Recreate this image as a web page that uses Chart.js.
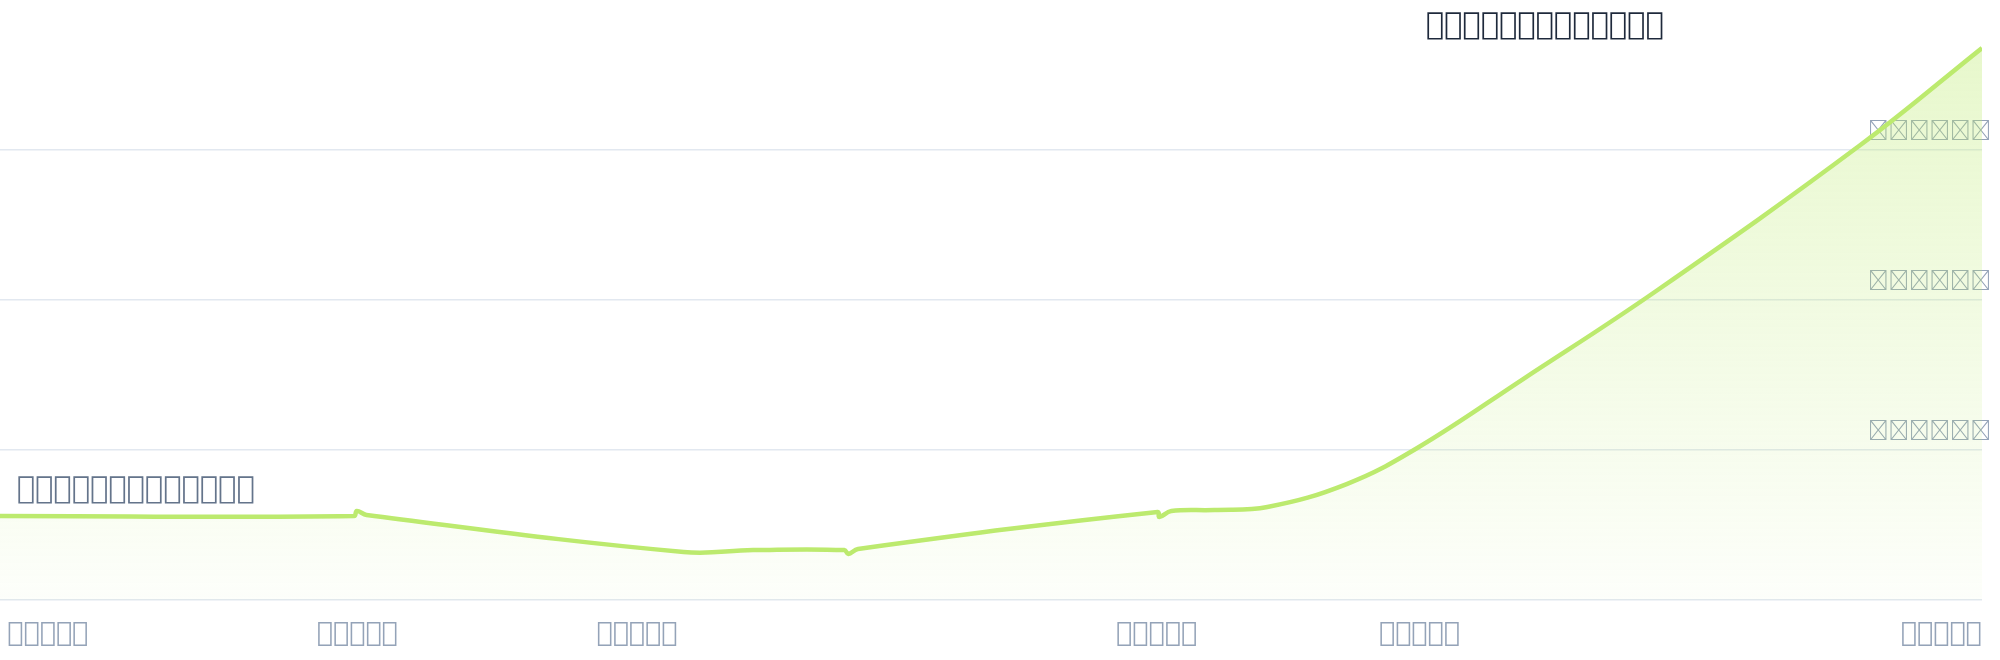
<!DOCTYPE html>
<html>
<head>
<meta charset="utf-8">
<script src="https://cdn.jsdelivr.net/npm/chart.js@4.4.1/dist/chart.umd.min.js"></script>
<style>
  html, body { margin: 0; padding: 0; background: #fff; }
  #wrap { width: 2000px; height: 660px; position: relative; }
</style>
</head>
<body>
<div id="wrap"><canvas id="chartVentas"></canvas></div>
<script>
// eje x: dias del periodo, eje y: valor acumulado
const xValues = [0, 65.2, 65.7, 67.5, 125.9, 138.7, 155.5, 156.2, 158, 213.2, 213.5, 215.7, 223.6, 233.4, 248, 261, 280.5, 305, 342.6, 365];
const yValues = [56000, 56000, 59300, 56700, 32000, 33300, 33300, 30700, 34000, 58700, 55300, 59300, 60000, 62000, 77300, 101300, 147300, 206000, 303300, 368000];

// los textos del original no tienen glifo en ninguna fuente (se ven como cajas)
const xTickValues = [8.8, 65.8, 117.3, 213, 261.4, 357.5];
const xTickLabels = [
  '\uE000\uE001\uE002\uE003\uE004',
  '\uE005\uE006\uE007\uE008\uE009',
  '\uE00A\uE00B\uE00C\uE00D\uE00E',
  '\uE00F\uE010\uE011\uE012\uE013',
  '\uE014\uE015\uE016\uE017\uE018',
  '\uE019\uE01A\uE01B\uE01C\uE01D'
];

const yTickValues = [100000, 200000, 300000];
const yTickLabels = [
  '\uE020\uE021\uE022\uE023\uE024\uE025',
  '\uE026\uE027\uE028\uE029\uE02A\uE02B',
  '\uE02C\uE02D\uE02E\uE02F\uE030\uE031'
];

const topLabel = '\uE040\uE041\uE042\uE043\uE044\uE045\uE046\uE047\uE048\uE049\uE04A\uE04B\uE04C';
const startLabel = '\uE050\uE051\uE052\uE053\uE054\uE055\uE056\uE057\uE058\uE059\uE05A\uE05B\uE05C';

const lineColor = '#bcea6e';

const labelsPlugin = {
  id: 'etiquetas',
  afterDatasetsDraw(chart) {
    const { ctx, chartArea } = chart;
    ctx.save();
    ctx.textBaseline = 'alphabetic';
    ctx.textAlign = 'left';
    ctx.font = '30.5px "DejaVu Sans"';
    ctx.fillStyle = '#1e293b';
    ctx.fillText(topLabel, chartArea.right - 556, chartArea.top + 34);
    ctx.fillStyle = '#64748b';
    ctx.fillText(startLabel, chartArea.left + 17, chartArea.top + 498);
    ctx.restore();
  }
};

const ctx = document.getElementById('chartVentas');

new Chart(ctx, {
  type: 'line',
  data: {
    datasets: [{
      label: 'ventas',
      data: xValues.map((x, i) => ({ x: x, y: yValues[i] })),
      borderColor: lineColor,
      borderWidth: 4.5,
      tension: 0.4,
      pointRadius: 0,
      fill: 'start',
      backgroundColor: (c) => {
        const area = c.chart.chartArea;
        if (!area) return 'rgba(188, 234, 110, 0.2)';
        const g = c.chart.ctx.createLinearGradient(0, area.top, 0, area.bottom);
        g.addColorStop(0, 'rgba(188, 234, 110, 0.38)');
        g.addColorStop(1, 'rgba(188, 234, 110, 0.03)');
        return g;
      }
    }]
  },
  options: {
    responsive: true,
    maintainAspectRatio: false,
    animation: false,
    layout: { padding: 0 },
    plugins: {
      legend: { display: false },
      tooltip: { enabled: false }
    },
    scales: {
      x: {
        type: 'linear',
        min: 0,
        max: 365,
        grid: { display: false },
        border: { display: false },
        afterBuildTicks: (axis) => { axis.ticks = xTickValues.map(v => ({ value: v })); },
        afterFit: (axis) => { axis.height = 60; axis.paddingLeft = 0; axis.paddingRight = 0; },
        ticks: {
          autoSkip: false,
          maxRotation: 0,
          padding: 10,
          color: '#94a3b8',
          font: { family: 'DejaVu Sans', size: 27 },
          callback: (v, i) => xTickLabels[i]
        }
      },
      y: {
        position: 'right',
        min: 0,
        max: 400000,
        border: { display: false },
        afterFit: (axis) => { axis.paddingTop = 0; axis.paddingBottom = 0; },
        grid: {
          color: (c) => c.tick && c.tick.value === 400000 ? 'rgba(0,0,0,0)' : '#e2e8f0',
          lineWidth: 1.5,
          drawTicks: false
        },
        ticks: {
          mirror: true,
          stepSize: 100000,
          padding: 9,
          labelOffset: -20,
          color: '#94a3b8',
          font: { family: 'Noto Sans CJK SC', size: 20.5 },
          callback: (v) => {
            const i = yTickValues.indexOf(v);
            return i >= 0 ? yTickLabels[i] : '';
          }
        }
      }
    }
  },
  plugins: [labelsPlugin]
});
</script>
</body>
</html>
